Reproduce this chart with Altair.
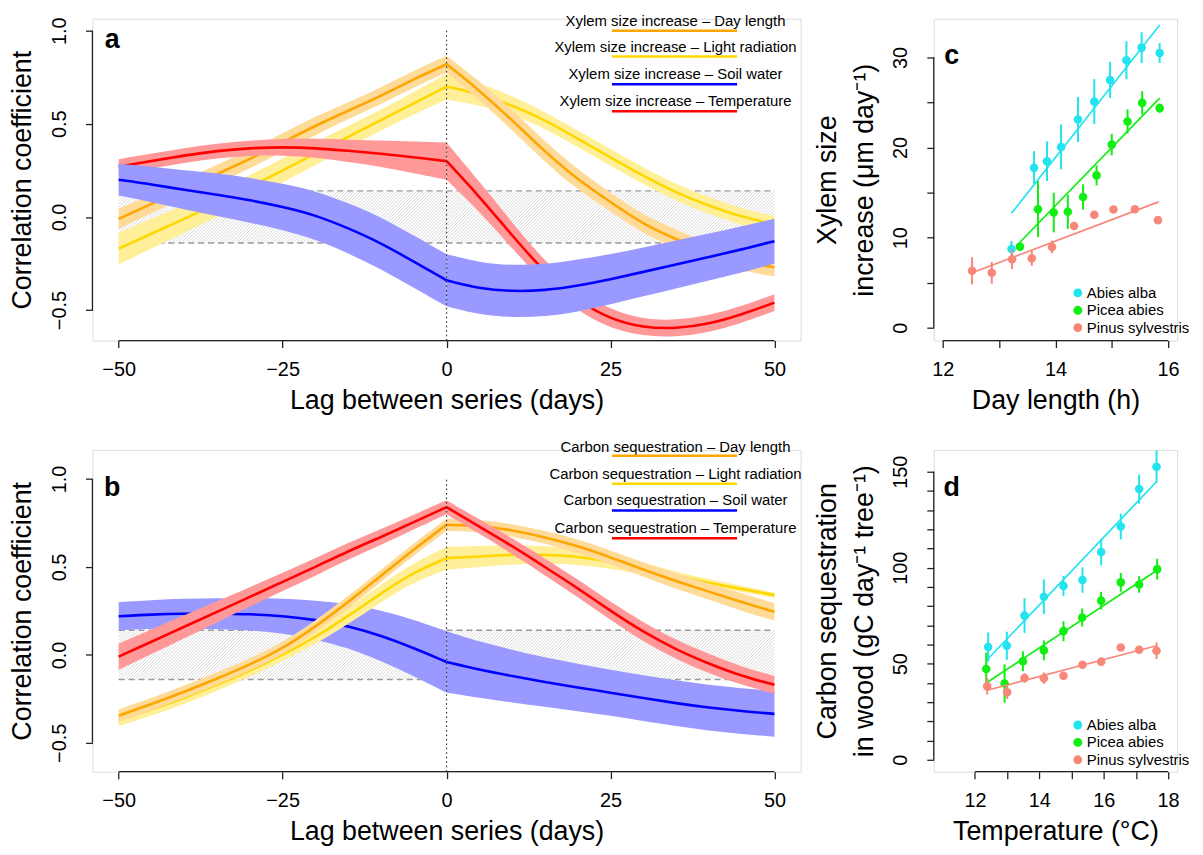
import altair as alt
import pandas as pd

FONT = "Liberation Sans"
W_MAIN, W_SIDE, H = 713, 245, 324

# ---------------- data: lagged correlations (lag in days) ----------------
LAGS = [-50, -45, -40, -35, -30, -25, -20, -15, -10, -5, 0,
        5, 10, 15, 20, 25, 30, 35, 40, 45, 50]

# panel a : Xylem size increase
A_DAY = [-0.01, 0.07, 0.15, 0.23, 0.31, 0.40, 0.49, 0.57, 0.65, 0.74, 0.82,
         0.68, 0.52, 0.35, 0.20, 0.08, -0.04, -0.12, -0.19, -0.24, -0.27]
A_DAY_CI = [0.055, 0.05, 0.05, 0.05, 0.05, 0.05, 0.05, 0.045, 0.045, 0.045, 0.045,
            0.05, 0.055, 0.055, 0.055, 0.05, 0.05, 0.05, 0.05, 0.05, 0.05]
A_LIGHT = [-0.17, -0.09, -0.01, 0.07, 0.16, 0.25, 0.34, 0.43, 0.52, 0.61, 0.70,
           0.66, 0.60, 0.52, 0.42, 0.32, 0.22, 0.13, 0.06, 0.00, -0.04]
A_LIGHT_CI = [0.085, 0.08, 0.075, 0.07, 0.065, 0.065, 0.06, 0.06, 0.055, 0.06, 0.07,
              0.06, 0.05, 0.045, 0.045, 0.045, 0.045, 0.045, 0.045, 0.045, 0.045]
A_WATER = [0.20, 0.175, 0.145, 0.12, 0.09, 0.055, 0.01, -0.06, -0.14, -0.24, -0.34,
           -0.385, -0.40, -0.395, -0.37, -0.335, -0.295, -0.255, -0.215, -0.175, -0.13]
A_WATER_CI = [0.085, 0.095, 0.105, 0.115, 0.12, 0.125, 0.13, 0.135, 0.14, 0.14, 0.14,
              0.14, 0.14, 0.14, 0.14, 0.135, 0.13, 0.13, 0.125, 0.125, 0.12]
A_TEMP = [0.27, 0.30, 0.33, 0.355, 0.37, 0.375, 0.37, 0.355, 0.34, 0.32, 0.30,
          0.11, -0.10, -0.30, -0.45, -0.55, -0.595, -0.60, -0.575, -0.525, -0.46]
A_TEMP_CI = [0.04, 0.04, 0.04, 0.04, 0.04, 0.045, 0.05, 0.06, 0.07, 0.085, 0.10,
             0.08, 0.07, 0.06, 0.055, 0.05, 0.045, 0.045, 0.045, 0.045, 0.045]

# panel b : Carbon sequestration
B_DAY = [-0.345, -0.28, -0.21, -0.135, -0.055, 0.035, 0.16, 0.30, 0.45, 0.60, 0.74,
         0.735, 0.71, 0.67, 0.62, 0.555, 0.485, 0.42, 0.36, 0.30, 0.245]
B_DAY_CI = [0.035, 0.035, 0.035, 0.035, 0.035, 0.035, 0.035, 0.035, 0.035, 0.035, 0.035,
            0.035, 0.035, 0.035, 0.04, 0.04, 0.04, 0.045, 0.045, 0.05, 0.05]
B_LIGHT = [-0.37, -0.31, -0.245, -0.17, -0.09, 0.0, 0.10, 0.22, 0.35, 0.47, 0.55,
           0.56, 0.57, 0.57, 0.56, 0.53, 0.49, 0.45, 0.41, 0.375, 0.34]
B_LIGHT_CI = [0.035, 0.035, 0.035, 0.035, 0.035, 0.035, 0.04, 0.045, 0.05, 0.055, 0.065,
              0.06, 0.055, 0.05, 0.045, 0.04, 0.03, 0.025, 0.02, 0.018, 0.015]
B_WATER = [0.22, 0.23, 0.235, 0.235, 0.232, 0.222, 0.20, 0.165, 0.11, 0.04, -0.04,
           -0.085, -0.12, -0.155, -0.185, -0.215, -0.245, -0.275, -0.30, -0.32, -0.335]
B_WATER_CI = [0.08, 0.082, 0.085, 0.088, 0.09, 0.10, 0.11, 0.125, 0.145, 0.16, 0.175,
              0.16, 0.15, 0.14, 0.135, 0.13, 0.13, 0.13, 0.13, 0.13, 0.13]
B_TEMP = [-0.01, 0.075, 0.16, 0.245, 0.33, 0.415, 0.50, 0.59, 0.67, 0.755, 0.84,
          0.73, 0.62, 0.50, 0.38, 0.25, 0.13, 0.03, -0.05, -0.12, -0.17]
B_TEMP_CI = [0.075, 0.07, 0.065, 0.06, 0.055, 0.052, 0.05, 0.048, 0.045, 0.042, 0.04,
             0.04, 0.045, 0.048, 0.05, 0.052, 0.055, 0.055, 0.055, 0.052, 0.05]

DRIVERS = ["Day length", "Light radiation", "Soil water", "Temperature"]
LINE_COL = {"Day length": "#FFA500", "Light radiation": "#FFD700",
            "Soil water": "#0000FF", "Temperature": "#FF0000"}
BAND_COL = {"Day length": "#FFDB99", "Light radiation": "#FFEF99",
            "Soil water": "#9999FF", "Temperature": "#FF9999"}
SIG = 0.14

# ---------------- data: species relationships ----------------
SPECIES = ["Abies alba", "Picea abies", "Pinus sylvestris"]
SP_COL = ["#22E3EE", "#11EE11", "#F8877A"]

C_X = {"Abies alba": [13.22, 13.62, 13.85, 14.10, 14.40, 14.69, 14.97, 15.26, 15.53, 15.85],
       "Picea abies": [13.37, 13.69, 13.97, 14.22, 14.49, 14.73, 15.00, 15.28, 15.54, 15.85],
       "Pinus sylvestris": [12.52, 12.87, 13.23, 13.58, 13.94, 14.33, 14.69, 15.03, 15.41, 15.82]}
C_Y = {"Abies alba": [8.74, 17.75, 18.49, 20.07, 23.12, 25.1, 27.5, 29.7, 31.1, 30.5],
       "Picea abies": [9.0, 13.16, 12.79, 12.87, 14.52, 16.91, 20.33, 22.9, 24.96, 24.38],
       "Pinus sylvestris": [6.32, 6.10, 7.61, 7.72, 8.97, 11.29, 12.54, 13.13, 13.16, 11.95]}
C_E = {"Abies alba": [0.9, 1.85, 2.2, 2.5, 2.5, 2.5, 2.0, 2.1, 1.7, 1.1],
       "Picea abies": [0.45, 3.1, 2.2, 1.9, 1.4, 1.1, 1.2, 1.36, 1.3, 0.5],
       "Pinus sylvestris": [1.5, 1.2, 1.1, 0.85, 0.7, 0.4, 0.3, 0.3, 0.3, 0.3]}
C_FIT_X = {"Abies alba": [13.22, 15.85], "Picea abies": [13.37, 15.85],
           "Pinus sylvestris": [12.52, 15.83]}
C_FIT_Y = {"Abies alba": [12.7, 33.6], "Picea abies": [9.49, 25.5],
           "Pinus sylvestris": [6.1, 13.97]}

D_X = {"Abies alba": [12.41, 12.99, 13.54, 14.14, 14.75, 15.34, 15.92, 16.53, 17.10, 17.64],
       "Picea abies": [12.35, 12.92, 13.49, 14.14, 14.75, 15.33, 15.92, 16.53, 17.10, 17.66],
       "Pinus sylvestris": [12.38, 13.00, 13.54, 14.14, 14.75, 15.34, 15.92, 16.53, 17.10, 17.64]}
D_Y = {"Abies alba": [58.7, 59.4, 75.1, 84.9, 90.5, 93.6, 108.2, 121.5, 141.0, 152.6],
       "Picea abies": [47.3, 39.7, 51.3, 57.0, 67.0, 74.1, 82.9, 92.4, 91.3, 99.3],
       "Pinus sylvestris": [38.3, 35.2, 42.6, 42.5, 43.8, 49.5, 51.1, 58.5, 57.3, 56.8]}
D_E = {"Abies alba": [7.6, 7.3, 9.0, 9.0, 5.2, 6.6, 6.9, 6.7, 7.6, 8.4],
       "Picea abies": [8.6, 10.0, 5.2, 5.2, 5.2, 4.7, 4.6, 4.9, 4.3, 5.4],
       "Pinus sylvestris": [4.3, 3.5, 2.5, 3.0, 2.0, 1.5, 1.5, 1.0, 1.5, 4.3]}
D_FIT_X = {"Abies alba": [12.38, 17.64], "Picea abies": [12.35, 17.66],
           "Pinus sylvestris": [12.38, 17.64]}
D_FIT_Y = {"Abies alba": [52.1, 144.8], "Picea abies": [40.0, 98.7],
           "Pinus sylvestris": [36.2, 59.4]}

# ---------------- shared axis styling ----------------
AX_COMMON = dict(domain=False, grid=False, ticks=True, tickSize=7, tickWidth=1.3,
                 tickColor="#222222", labelFont=FONT, labelFontSize=20, labelColor="black",
                 labelOverlap=False, labelBound=False, titleFont=FONT, titleFontSize=27,
                 titleFontWeight="normal", titleColor="black")
XAX = dict(AX_COMMON, labelPadding=12, labelFlush=False, titlePadding=8)
YAX = dict(AX_COMMON, labelAngle=270, labelAlign="center", labelBaseline="alphabetic",
           labelPadding=20)


def series_frame(vals, ci):
    rows = []
    for side, idx in (("L", range(0, 11)), ("R", range(10, 21))):
        for i in idx:
            rows.append({"lag": LAGS[i], "r": vals[i], "lo": vals[i] - ci[i],
                         "hi": vals[i] + ci[i], "side": side})
    return pd.DataFrame(rows)


def hatch_frame(ytop):
    px_day = W_MAIN / 108.0
    px_unit = H / (ytop + 0.664)
    span = (2 * SIG * px_unit) / px_day
    rows = []
    x0 = -50 - span
    while x0 < 50:
        xa, ya, xb, yb = x0, -SIG, x0 + span, SIG
        if xa < -50:
            t = (-50 - x0) / span
            xa, ya = -50, -SIG + 2 * SIG * t
        if xb > 50:
            t = (50 - x0) / span
            xb, yb = 50, -SIG + 2 * SIG * t
        rows.append({"xa": xa, "xb": xb, "ya": ya, "yb": yb})
        x0 += 0.5
    return pd.DataFrame(rows)


def corr_panel(series, order, ytop, prefix, text_y, line_y, letter, letter_y):
    xs = alt.Scale(domain=[-54, 54], nice=False, zero=False)
    ys = alt.Scale(domain=[-0.664, ytop], nice=False, zero=False)
    xax = alt.Axis(values=[-50, -25, 0, 25, 50], format="d",
                   title="Lag between series (days)", **XAX)
    yax = alt.Axis(values=[-0.5, 0, 0.5, 1.0], format=".1f",
                   title="Correlation coefficient", titlePadding=13, **YAX)

    def X(f):
        return alt.X(f, type="quantitative", scale=xs, axis=xax)

    def Y(f):
        return alt.Y(f, type="quantitative", scale=ys, axis=yax, stack=None)

    layers = []
    layers.append(alt.Chart(hatch_frame(ytop)).mark_rule(color="#C6C6C6", strokeWidth=0.7)
                  .encode(x=X("xa"), x2=alt.X2("xb"), y=Y("ya"), y2=alt.Y2("yb")))
    dash = pd.DataFrame({"x1": [-50, -50], "x2": [50, 50], "y": [-SIG, SIG]})
    layers.append(alt.Chart(dash).mark_rule(color="#9A9A9A", strokeWidth=1.4, strokeDash=[6, 4])
                  .encode(x=X("x1"), x2=alt.X2("x2"), y=Y("y")))
    for name in order:
        df = series_frame(*series[name])
        layers.append(alt.Chart(df).mark_area(color=BAND_COL[name], opacity=1,
                                              interpolate="basis")
                      .encode(x=X("lag"), y=Y("lo"), y2=alt.Y2("hi"), detail="side:N"))
        layers.append(alt.Chart(df).mark_line(color=LINE_COL[name], strokeWidth=2.6,
                                              interpolate="basis")
                      .encode(x=X("lag"), y=Y("r"), detail="side:N"))
    dot = pd.DataFrame({"lag": [0], "y1": [-0.664], "y2": [1.0]})
    layers.append(alt.Chart(dot).mark_rule(color="#333333", strokeWidth=1.2, strokeDash=[1.5, 3])
                  .encode(x=X("lag"), y=Y("y1"), y2=alt.Y2("y2")))
    # R-style axis lines (from first to last tick)
    layers.append(alt.Chart(pd.DataFrame({"x1": [-50], "x2": [50]}))
                  .mark_rule(color="#222222", strokeWidth=1.3)
                  .encode(x=X("x1"), x2=alt.X2("x2"), y=alt.value(H)))
    layers.append(alt.Chart(pd.DataFrame({"y1": [-0.5], "y2": [1.0]}))
                  .mark_rule(color="#222222", strokeWidth=1.3)
                  .encode(x=alt.value(0), y=Y("y1"), y2=alt.Y2("y2")))
    # legend: text with coloured underline
    for i, name in enumerate(DRIVERS):
        lab = pd.DataFrame({"t": [f"{prefix} \u2013 {name}"]})
        layers.append(alt.Chart(lab).mark_text(font=FONT, fontSize=15, align="center",
                                               baseline="middle", color="black")
                      .encode(x=alt.value(587), y=alt.value(text_y[i]), text="t:N"))
        layers.append(alt.Chart(lab).mark_rule(color=LINE_COL[name], strokeWidth=2.5)
                      .encode(x=alt.value(523), x2=alt.value(649), y=alt.value(line_y[i])))
    layers.append(alt.Chart(pd.DataFrame({"t": [letter]}))
                  .mark_text(font=FONT, fontSize=27, fontWeight="bold", align="center",
                             baseline="middle", color="black")
                  .encode(x=alt.value(20), y=alt.value(letter_y), text="t:N"))
    return alt.layer(*layers).properties(width=W_MAIN, height=H)


def species_panel(PX, PY, PE, FX, FY, xdom, ydom, xvals, xstep, yvals, ystep,
                  xtitle, ytitle, xline, yline, letter, leg_y):
    xs = alt.Scale(domain=xdom, nice=False, zero=False)
    ys = alt.Scale(domain=ydom, nice=False, zero=False)
    xax = alt.Axis(values=xvals, format="d", title=xtitle,
                   labelExpr=f"datum.value % {xstep} === 0 ? datum.label : ''", **XAX)
    yax = alt.Axis(values=yvals, format="d", title=ytitle, titleLineHeight=37,
                   titlePadding=13,
                   labelExpr=f"datum.value % {ystep} === 0 ? datum.label : ''", **YAX)

    def X(f):
        return alt.X(f, type="quantitative", scale=xs, axis=xax)

    def Y(f):
        return alt.Y(f, type="quantitative", scale=ys, axis=yax)

    layers = []
    for sp, col in zip(SPECIES, SP_COL):
        pts = pd.DataFrame({"x": PX[sp], "y": PY[sp],
                            "lo": [v - e for v, e in zip(PY[sp], PE[sp])],
                            "hi": [v + e for v, e in zip(PY[sp], PE[sp])]})
        fit = pd.DataFrame({"x": FX[sp], "y": FY[sp]})
        layers.append(alt.Chart(pts).mark_rule(color=col, strokeWidth=2)
                      .encode(x=X("x"), y=Y("lo"), y2=alt.Y2("hi")))
        layers.append(alt.Chart(pts).mark_circle(color=col, size=75, opacity=1)
                      .encode(x=X("x"), y=Y("y")))
        layers.append(alt.Chart(fit).mark_line(color=col, strokeWidth=1.7)
                      .encode(x=X("x"), y=Y("y")))
    layers.append(alt.Chart(pd.DataFrame({"x1": [xline[0]], "x2": [xline[1]]}))
                  .mark_rule(color="#222222", strokeWidth=1.3)
                  .encode(x=X("x1"), x2=alt.X2("x2"), y=alt.value(H)))
    layers.append(alt.Chart(pd.DataFrame({"y1": [yline[0]], "y2": [yline[1]]}))
                  .mark_rule(color="#222222", strokeWidth=1.3)
                  .encode(x=alt.value(0), y=Y("y1"), y2=alt.Y2("y2")))
    for i, (sp, col) in enumerate(zip(SPECIES, SP_COL)):
        lab = pd.DataFrame({"t": [sp]})
        layers.append(alt.Chart(lab).mark_circle(color=col, size=80, opacity=1)
                      .encode(x=alt.value(145), y=alt.value(leg_y + 17.5 * i)))
        layers.append(alt.Chart(lab).mark_text(font=FONT, fontSize=15, align="left",
                                               baseline="middle", color="black")
                      .encode(x=alt.value(154), y=alt.value(leg_y + 17.5 * i), text="t:N"))
    layers.append(alt.Chart(pd.DataFrame({"t": [letter]}))
                  .mark_text(font=FONT, fontSize=27, fontWeight="bold", align="center",
                             baseline="middle", color="black")
                  .encode(x=alt.value(18), y=alt.value(38), text="t:N"))
    return alt.layer(*layers).properties(width=W_SIDE, height=H)


series_a = {"Day length": (A_DAY, A_DAY_CI), "Light radiation": (A_LIGHT, A_LIGHT_CI),
            "Soil water": (A_WATER, A_WATER_CI), "Temperature": (A_TEMP, A_TEMP_CI)}
series_b = {"Day length": (B_DAY, B_DAY_CI), "Light radiation": (B_LIGHT, B_LIGHT_CI),
            "Soil water": (B_WATER, B_WATER_CI), "Temperature": (B_TEMP, B_TEMP_CI)}

panel_a = corr_panel(series_a, ["Light radiation", "Day length", "Temperature", "Soil water"],
                     1.064, "Xylem size increase", [2, 28, 56, 83], [12, 38, 66, 93], "a", 21)
panel_b = corr_panel(series_b, ["Soil water", "Light radiation", "Day length", "Temperature"],
                     1.166, "Carbon sequestration", [-3, 24, 51, 79], [6, 34, 61, 89], "b", 38)

panel_c = species_panel(C_X, C_Y, C_E, C_FIT_X, C_FIT_Y, [11.84, 16.16], [-1.43, 34.3],
                        [12, 13, 14, 15, 16], 2, [0, 5, 10, 15, 20, 25, 30], 10,
                        "Day length (h)", ["Xylem size", "increase (\u03bcm day\u207b\u00b9)"],
                        (12, 16), (0, 30), "c", 276)
panel_d = species_panel(D_X, D_Y, D_E, D_FIT_X, D_FIT_Y, [10.72, 18.28], [-6.2, 161.4],
                        [12, 13, 14, 15, 16, 17, 18], 2,
                        [0, 10, 20, 30, 40, 50, 60, 70, 80, 90, 100, 110, 120, 130, 140, 150], 50,
                        "Temperature (\u00b0C)",
                        ["Carbon sequestration", "in wood (gC  day\u207b\u00b9  tree\u207b\u00b9)"],
                        (12, 18), (0, 150), "d", 277)

chart = (alt.concat(panel_a, panel_c, panel_b, panel_d, columns=2, align="each",
                    bounds="flush", spacing={"row": 110, "column": 134})
         .properties(padding={"left": 0, "top": 2, "right": 5, "bottom": 5})
         .configure_view(strokeWidth=0, stroke="transparent")
         .configure(font=FONT))

chart.save("out.html", embed_options={"renderer": "svg", "actions": False})
